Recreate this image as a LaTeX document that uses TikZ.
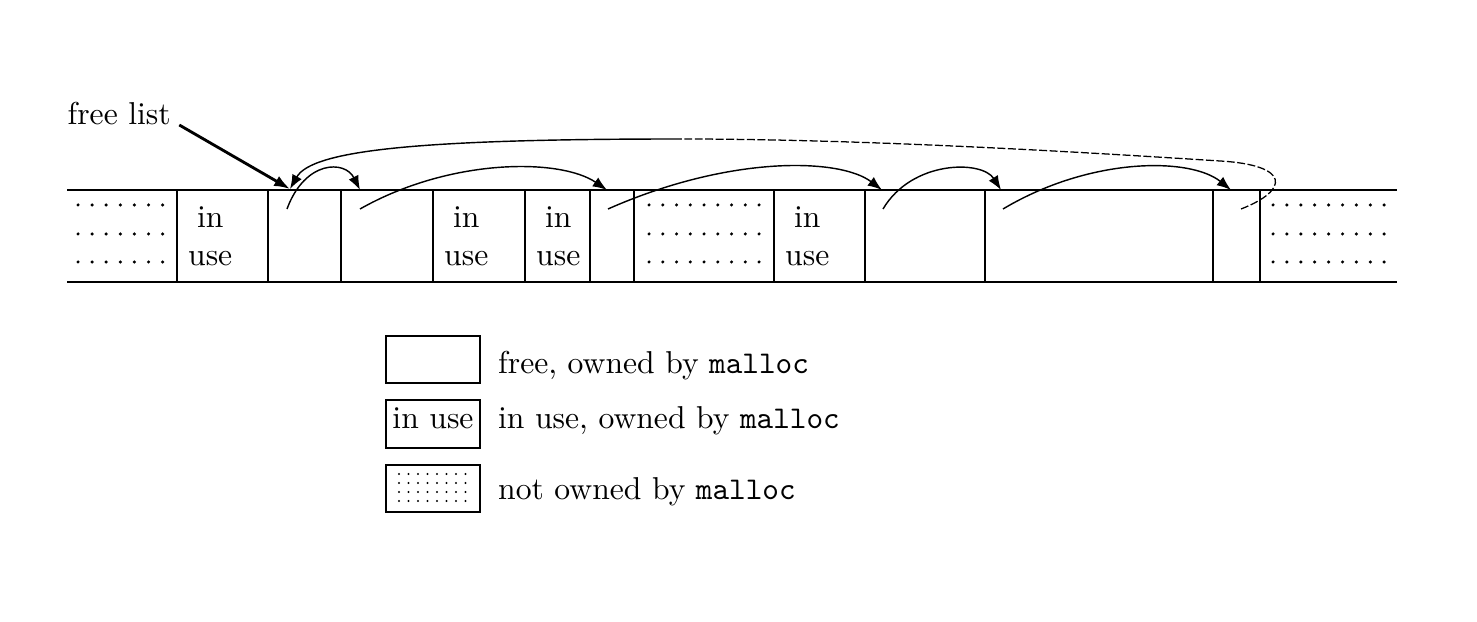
\documentclass[tikz,border=0pt]{standalone}
\usetikzlibrary{arrows.meta}
\begin{document}
\begin{tikzpicture}[x=0.316pt, y=-0.316pt,
    strip/.style={line width=0.6pt},
    link/.style={line width=0.45pt, -{Latex[length=4.5pt,width=3.4pt]}},
    back/.style={line width=0.4pt, dash pattern=on 2.5pt off 0.8pt},
    legbox/.style={draw, line width=0.6pt, minimum width=29.7pt, minimum height=15pt, inner sep=0pt}]
    \useasboundingbox (0,0) rectangle (1477,622);
    % the blocks
    \draw[strip] (67,190)--(1397,190); \draw[strip] (67,282)--(1397,282);
    \foreach \x in {177,268,341,433,525,590,634,774,865,985,1213,1260} \draw[strip] (\x,190)--(\x,282);
    \foreach \x in {177,433,525,774} \node[anchor=west, align=center] (u\x) at (\x,236) {in\\use};
    \foreach \y in {205,234,262} {
        \foreach \i in {0,...,6} \fill (78+14.1*\i,\y) circle (0.55pt);
        \foreach \i in {0,...,8} \fill (649+13.75*\i,\y) circle (0.55pt);
        \foreach \i in {0,...,8} \fill (1273+13.9*\i,\y) circle (0.55pt);
    }
    % free list links
    \coordinate (s3) at (287,209); \coordinate (s4) at (360,209); \coordinate (s7) at (608,209);
    \coordinate (s10) at (883,209); \coordinate (s11) at (1003,209); \coordinate (s12) at (1241,209);
    \coordinate (h3) at (290,189); \coordinate (h4) at (360,190); \coordinate (h7) at (607,190);
    \coordinate (h10) at (882,190); \coordinate (h11) at (1001,190); \coordinate (h12) at (1231,190);
    \coordinate (r1) at (1220,161); \coordinate (r2) at (680,139);
    \draw[link] (s3) .. controls (305,160) and (345,160) .. (h4);
    \draw[link] (s4) .. controls (450,158) and (560,158) .. (h7);
    \draw[link] (s7) .. controls (730,155) and (840,158) .. (h10);
    \draw[link] (s10) .. controls (912,160) and (982,160) .. (h11);
    \draw[link] (s11) .. controls (1090,157) and (1190,157) .. (h12);
    \draw[back] (s12) .. controls (1290,190) and (1290,165) .. (r1) .. controls (1050,150) and (850,139) .. (r2);
    \draw[link] (r2) .. controls (420,139) and (312,150) .. (h3);
    \node[anchor=base west, inner sep=0pt] (fl) at (67,125) {free list};
    \draw[line width=0.9pt, -{Latex[length=5pt,width=3.6pt]}] ([xshift=2.5pt]fl.base east) -- (h3);
    % legend
    \node[legbox] (kfree) at (433,359.5) {};
    \node[legbox, text depth=3.5pt] (kuse) at (433,424) {in use};
    \node[legbox] (kown) at (433,488.5) {};
    \foreach \y in {474,483,492,501} \foreach \i in {0,...,7} \fill (399+9.5*\i,\y) circle (0.38pt);
    \node[anchor=base west] (tfree) at (487,374) {free, owned by \texttt{malloc}};
    \node[anchor=base west] (tuse) at (487,429) {in use, owned by \texttt{malloc}};
    \node[anchor=base west] (town) at (487,500) {not owned by \texttt{malloc}};
\end{tikzpicture}
\end{document}
